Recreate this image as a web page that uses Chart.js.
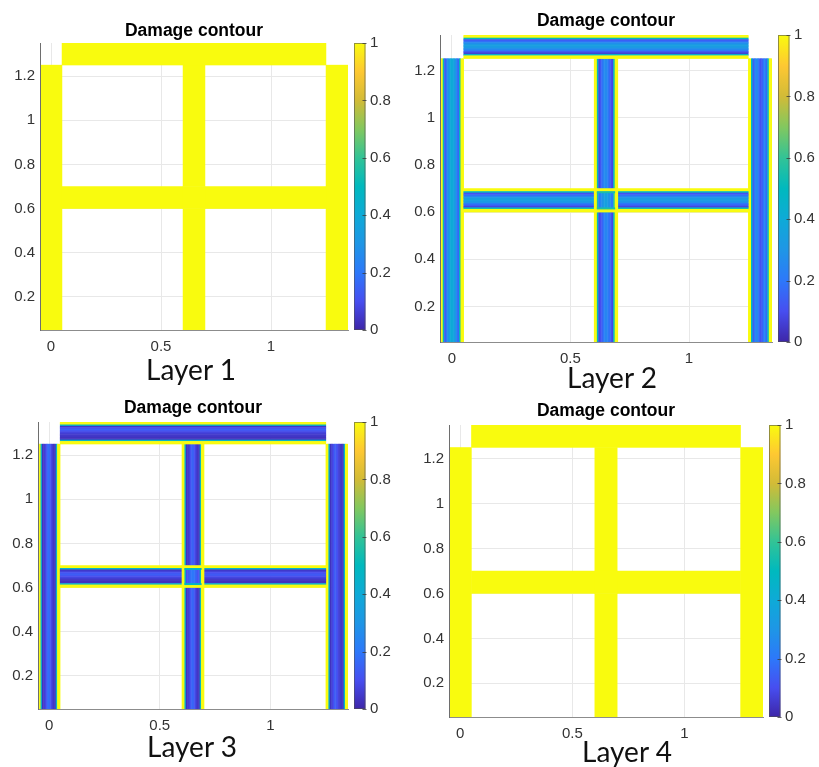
<!DOCTYPE html>
<html>
<head>
<meta charset="utf-8">
<script src="https://cdn.jsdelivr.net/npm/chart.js@4.4.1/dist/chart.umd.min.js"></script>
<style>
  html, body { margin: 0; padding: 0; background: #fff; }
  #page { position: relative; width: 819px; height: 767px; overflow: hidden; }
  canvas { position: absolute; }
  .layer { position: absolute; font-family: Lato, sans-serif; font-size: 28px; line-height: 28px;
           color: #111; white-space: nowrap; transform: translateX(-50%); }
</style>
</head>
<body>
<div id="page">
  <canvas id="c1" width="405" height="390" style="left:0;top:0"></canvas>
  <canvas id="c2" width="414" height="390" style="left:405px;top:0"></canvas>
  <canvas id="c3" width="405" height="377" style="left:0;top:390px"></canvas>
  <canvas id="c4" width="414" height="377" style="left:405px;top:390px"></canvas>
  <div class="layer" style="left:191px;top:355px">Layer 1</div>
  <div class="layer" style="left:612px;top:363px">Layer 2</div>
  <div class="layer" style="left:192px;top:732px">Layer 3</div>
  <div class="layer" style="left:627px;top:737px">Layer 4</div>
</div>
<script>
// frame members (data units): columns, beams and the central joint
const memberNames = ['left column', 'middle column lower', 'middle column upper', 'right column',
                     'top beam', 'middle beam left', 'middle beam right', 'joint'];
const memberX = [[-0.05, 0.05], [0.6, 0.7], [0.6, 0.7], [1.25, 1.35], [0.05, 1.25], [0.05, 0.6], [0.7, 1.25], [0.6, 0.7]];
const memberY = [[0.05, 1.25], [0.05, 0.6], [0.7, 1.25], [0.05, 1.25], [1.25, 1.35], [0.6, 0.7], [0.6, 0.7], [0.6, 0.7]];
const memberDir = ['v', 'v', 'v', 'v', 'h', 'h', 'h', 'v'];
const memberCaps = [0, 0, 0, 0, 0, 0, 0, 1];

// damage across each member's width (left->right for columns, top->bottom for beams)
const layer1Damage = [[1], [1], [1], [1], [1], [1], [1], [1]];
const layer2Damage = [
  [1, 1, 0.5, 0.12, 0.2, 0.28, 0.35, 0.4, 0.4, 0.36, 0.3, 0.24, 0.16, 0.5, 1, 1],
  [1, 1, 0.5, 0.08, 0.1, 0.14, 0.2, 0.24, 0.25, 0.22, 0.18, 0.14, 0.08, 0.5, 1, 1],
  [1, 1, 0.5, 0.08, 0.12, 0.18, 0.24, 0.26, 0.26, 0.22, 0.16, 0.12, 0.08, 0.5, 1, 1],
  [1, 1, 0.5, 0.14, 0.2, 0.26, 0.24, 0.16, 0.1, 0.14, 0.2, 0.24, 0.16, 0.5, 1, 1],
  [1, 1, 0.5, 0.12, 0.18, 0.26, 0.32, 0.34, 0.32, 0.28, 0.22, 0.14, 0.06, 0.45, 1, 1],
  [1, 1, 0.5, 0.1, 0.16, 0.24, 0.32, 0.36, 0.34, 0.3, 0.22, 0.14, 0.08, 0.5, 1, 1],
  [1, 1, 0.5, 0.1, 0.16, 0.24, 0.3, 0.34, 0.32, 0.28, 0.2, 0.14, 0.08, 0.5, 1, 1],
  [1, 1, 0.55, 0.2, 0.24, 0.28, 0.32, 0.35, 0.35, 0.32, 0.28, 0.25, 0.2, 0.55, 1, 1]
];
const layer3Damage = [
  [1, 1, 0.45, 0.03, 0.05, 0.08, 0.12, 0.18, 0.16, 0.1, 0.06, 0.04, 0.03, 0.45, 1, 1],
  [1, 1, 0.45, 0.03, 0.05, 0.08, 0.12, 0.16, 0.15, 0.11, 0.06, 0.04, 0.03, 0.45, 1, 1],
  [1, 1, 0.45, 0.03, 0.04, 0.07, 0.11, 0.15, 0.14, 0.1, 0.06, 0.04, 0.03, 0.45, 1, 1],
  [1, 1, 0.45, 0.03, 0.06, 0.1, 0.14, 0.13, 0.1, 0.07, 0.05, 0.04, 0.03, 0.45, 1, 1],
  [1, 1, 0.45, 0.04, 0.1, 0.15, 0.12, 0.08, 0.06, 0.05, 0.04, 0.03, 0.03, 0.45, 1, 1],
  [1, 1, 0.45, 0.04, 0.07, 0.11, 0.14, 0.12, 0.09, 0.06, 0.04, 0.03, 0.03, 0.45, 1, 1],
  [1, 1, 0.45, 0.04, 0.07, 0.1, 0.13, 0.12, 0.09, 0.06, 0.04, 0.03, 0.03, 0.45, 1, 1],
  [1, 1, 0.5, 0.1, 0.12, 0.15, 0.18, 0.2, 0.2, 0.18, 0.15, 0.12, 0.1, 0.5, 1, 1]
];
const layer4Damage = [[1], [1], [1], [1], [1], [1], [1], [1]];

const xTicks = [0, 0.5, 1];
const yTicks = [0.2, 0.4, 0.6, 0.8, 1, 1.2];
const cbTicks = [0, 0.2, 0.4, 0.6, 0.8, 1];

// parula-like colour map
const parulaStops = [
  [62, 38, 168], [71, 78, 240], [45, 120, 250], [30, 150, 230], [14, 170, 215], [0, 185, 190],
  [50, 195, 150], [130, 200, 95], [210, 187, 55], [254, 200, 50], [249, 251, 14]
];
function parula(v) {
  const t = Math.max(0, Math.min(1, v)) * (parulaStops.length - 1);
  const i = Math.min(Math.floor(t), parulaStops.length - 2);
  const f = t - i;
  const a = parulaStops[i], b = parulaStops[i + 1];
  return `rgb(${a.map((c, k) => Math.round(c + (b[k] - c) * f)).join(',')})`;
}

const framePlugin = {
  id: 'frame',
  beforeDatasetsDraw(chart, args, opts) {
    const { ctx, chartArea: a, scales: { x, y } } = chart;
    ctx.save();
    ctx.beginPath();
    ctx.rect(a.left, a.top, a.width, a.height);
    ctx.clip();
    const cell = (x0, x1, y0, y1, v) => {
      const px0 = x.getPixelForValue(x0), px1 = x.getPixelForValue(x1);
      const py0 = y.getPixelForValue(y0), py1 = y.getPixelForValue(y1);
      ctx.fillStyle = parula(v);
      ctx.fillRect(Math.min(px0, px1) - 0.25, Math.min(py0, py1) - 0.25,
                   Math.abs(px1 - px0) + 0.5, Math.abs(py1 - py0) + 0.5);
    };
    opts.damage.forEach((row, i) => {
      const [x0, x1] = memberX[i], [y0, y1] = memberY[i];
      const n = row.length;
      const dx = (x1 - x0) / n, dy = (y1 - y0) / n;
      row.forEach((v, k) => {
        if (memberDir[i] === 'v') cell(x0 + dx * k, x0 + dx * (k + 1), y0, y1, v);
        else cell(x0, x1, y1 - dy * (k + 1), y1 - dy * k, v);
      });
      if (memberCaps[i] && n > 1) {
        for (let k = 0; k < 3; k++) {
          cell(x0 + dx * k, x1 - dx * k, y1 - dy * (k + 1), y1 - dy * k, row[k]);
          cell(x0 + dx * k, x1 - dx * k, y0 + dy * k, y0 + dy * (k + 1), row[n - 1 - k]);
        }
      }
    });
    ctx.restore();
  },
  afterDatasetsDraw(chart) {
    const { ctx } = chart;
    const cb = chart.scales.cb;
    const top = cb.getPixelForValue(1), bot = cb.getPixelForValue(0);
    const x0 = cb.left + 6, w = 11.5;
    const g = ctx.createLinearGradient(0, bot, 0, top);
    parulaStops.forEach((c, i) => g.addColorStop(i / (parulaStops.length - 1), `rgb(${c.join(',')})`));
    ctx.save();
    ctx.fillStyle = g;
    ctx.fillRect(x0, top, w, bot - top);
    ctx.strokeStyle = 'rgba(80,80,80,0.6)';
    ctx.lineWidth = 1;
    ctx.strokeRect(x0 + 0.5, top + 0.5, w - 1, bot - top - 1);
    ctx.strokeStyle = 'rgba(60,60,60,0.8)';
    cb.ticks.forEach(t => {
      const py = Math.round(cb.getPixelForValue(t.value)) + 0.5;
      ctx.beginPath();
      ctx.moveTo(x0 + w - 3, py);
      ctx.lineTo(x0 + w + 1, py);
      ctx.stroke();
    });
    ctx.restore();
  }
};

Chart.defaults.font.family = "'Liberation Sans', Arial, sans-serif";
Chart.defaults.color = '#333';

const Y_W = 32, X_H = 26, CB_W = 44, TITLE_SIZE = 17.5;

const panels = [
  { id: 'c1', cl: 0, ct: 0, cw: 405, ch: 390, l: 40, r: 348, t: 43, b: 330, tp: 1, damage: layer1Damage },
  { id: 'c2', cl: 405, ct: 0, cw: 414, ch: 390, l: 440, r: 772, t: 35, b: 342, tp: 3.5, damage: layer2Damage },
  { id: 'c3', cl: 0, ct: 390, cw: 405, ch: 377, l: 38, r: 348, t: 422, b: 709, tp: 3, damage: layer3Damage },
  { id: 'c4', cl: 405, ct: 390, cw: 414, ch: 377, l: 449, r: 763, t: 425, b: 717, tp: 3.5, damage: layer4Damage }
];

panels.forEach(p => {
  const titleH = TITLE_SIZE * 1.2 + p.tp;
  new Chart(document.getElementById(p.id), {
    type: 'scatter',
    data: { datasets: [] },
    plugins: [framePlugin],
    options: {
      responsive: false,
      animation: false,
      devicePixelRatio: 1,
      layout: {
        padding: {
          left: p.l - p.cl - Y_W,
          right: p.cl + p.cw - p.r - CB_W,
          top: p.t - p.ct - titleH,
          bottom: p.ct + p.ch - p.b - X_H
        }
      },
      plugins: {
        legend: { display: false },
        tooltip: { enabled: false },
        title: {
          display: true,
          text: 'Damage contour',
          fullSize: false,
          color: '#000',
          font: { size: TITLE_SIZE, weight: 'bold' },
          padding: { top: 0, bottom: p.tp }
        },
        frame: { damage: p.damage }
      },
      scales: {
        x: {
          type: 'linear', min: -0.05, max: 1.35,
          afterBuildTicks: s => { s.ticks = xTicks.map(v => ({ value: v })); },
          afterFit: s => { s.height = X_H; },
          grid: { color: '#e8e8e8', drawTicks: false },
          border: { color: '#8c8c8c' },
          ticks: { padding: 8, font: { size: 15 }, callback: v => String(v) }
        },
        y: {
          type: 'linear', min: 0.05, max: 1.35,
          afterBuildTicks: s => { s.ticks = yTicks.map(v => ({ value: v })); },
          afterFit: s => { s.width = Y_W; },
          grid: { color: '#e8e8e8', drawTicks: false },
          border: { color: '#6e6e6e', z: 1 },
          ticks: { padding: 5, font: { size: 15 }, callback: v => String(v) }
        },
        cb: {
          axis: 'y', type: 'linear', position: 'right', min: 0, max: 1,
          afterBuildTicks: s => { s.ticks = cbTicks.map(v => ({ value: v })); },
          afterFit: s => { s.width = CB_W; },
          grid: { display: false, drawTicks: false },
          border: { display: false },
          ticks: { padding: 22, font: { size: 15 }, callback: v => String(v) }
        }
      }
    }
  });
});
</script>
</body>
</html>
